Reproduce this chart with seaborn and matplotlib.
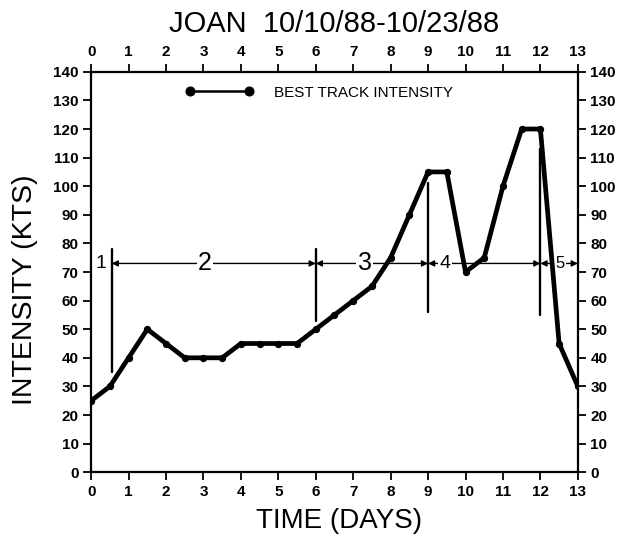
import numpy as np
import pandas as pd
import matplotlib
matplotlib.use("Agg")
import matplotlib.pyplot as plt
import seaborn as sns

# --- dati: intensita best track di Joan (ogni 12 ore) ---
giorni = [0, 0.5, 1, 1.5, 2, 2.5, 3, 3.5, 4, 4.5, 5, 5.5, 6, 6.5,
          7, 7.5, 8, 8.5, 9, 9.5, 10, 10.5, 11, 11.5, 12, 12.5, 13]
intensita = [25, 30, 40, 50, 45, 40, 40, 40, 45, 45, 45, 45, 50, 55,
             60, 65, 75, 90, 105, 105, 70, 75, 100, 120, 120, 45, 30]

# fasi: confini (giorni), estremi verticali (kts), etichette
confini = [0.55, 6, 9, 12]
vert_basso = [35, 53, 56, 55]
vert_alto = [78, 78, 101, 113]
fasi = ["1", "2", "3", "4", "5"]
fasi_x = [0.27, 3.04, 7.31, 9.45, 12.52]
inizio_fase = [0, 0.55, 6, 9, 12]
fine_fase = [0.55, 6, 9, 12, 13]
y_freccia = 73

df = pd.DataFrame({"giorno": giorni, "kts": intensita})

sns.set_style("ticks")
plt.rcParams['font.family'] = ['Liberation Sans', 'DejaVu Sans']
plt.rcParams['text.color'] = 'black'
plt.rcParams['axes.labelcolor'] = 'black'

fig = plt.figure(figsize=(6.2, 5.36), dpi=100)
ax = fig.add_axes([0.147, 0.119, 0.785, 0.747])

sns.lineplot(data=df, x="giorno", y="kts", ax=ax, color="black", lw=3.4,
             marker="o", markersize=4.5, markeredgecolor="black",
             label="BEST TRACK INTENSITY", zorder=5)

# linee verticali dei confini di fase
for xc, yb, yt in zip(confini, vert_basso, vert_alto):
    ax.plot([xc, xc], [yb, yt], color="black", lw=1.7, zorder=4)

# frecce orizzontali tra le fasi
for i, (x0, x1) in enumerate(zip(inizio_fase, fine_fase)):
    if i == 0:
        continue
    ax.annotate("", xy=(x1, y_freccia), xytext=(x0, y_freccia),
                arrowprops=dict(arrowstyle="<|-|>", lw=1, color="black",
                                mutation_scale=9, shrinkA=0, shrinkB=0),
                zorder=3)

dimensioni = [14, 18, 18, 14, 12]
for lab, xl, fs in zip(fasi, fasi_x, dimensioni):
    ax.text(xl, y_freccia, lab, ha="center", va="center", fontsize=fs,
            bbox=dict(facecolor="white", edgecolor="none", pad=1), zorder=3.5)

ax.set_xlim(0, 13)
ax.set_ylim(0, 140)
ax.set_xticks(range(0, 14))
ax.set_yticks(range(0, 141, 10))
ax.tick_params(direction="out", length=6, width=1.3, labelsize=11,
               top=True, labeltop=True, right=True, labelright=True,
               colors="black", pad=3)
for t in ax.get_xticklabels() + ax.get_yticklabels():
    t.set_fontweight("bold")
for s in ax.spines.values():
    s.set_visible(True)
    s.set_linewidth(1.6)
    s.set_color("black")

ax.set_xlabel("TIME (DAYS)", fontsize=20)
ax.set_ylabel("INTENSITY (KTS)", fontsize=20.5)
ax.xaxis.set_label_coords(0.51, -0.09)
ax.yaxis.set_label_coords(-0.11, 0.455)
ax.set_title("JOAN  10/10/88-10/23/88", fontsize=21, y=1.1, pad=0)

leg = ax.legend(loc="center left", bbox_to_anchor=(0.193, 0.9475),
                frameon=False, numpoints=2, handlelength=4.5,
                handletextpad=1.3, borderpad=0, borderaxespad=0,
                fontsize=11)
for h in leg.legend_handles:
    h.set_linewidth(1.8)
    h.set_markersize(6.5)

plt.savefig("out.png", dpi=100)
